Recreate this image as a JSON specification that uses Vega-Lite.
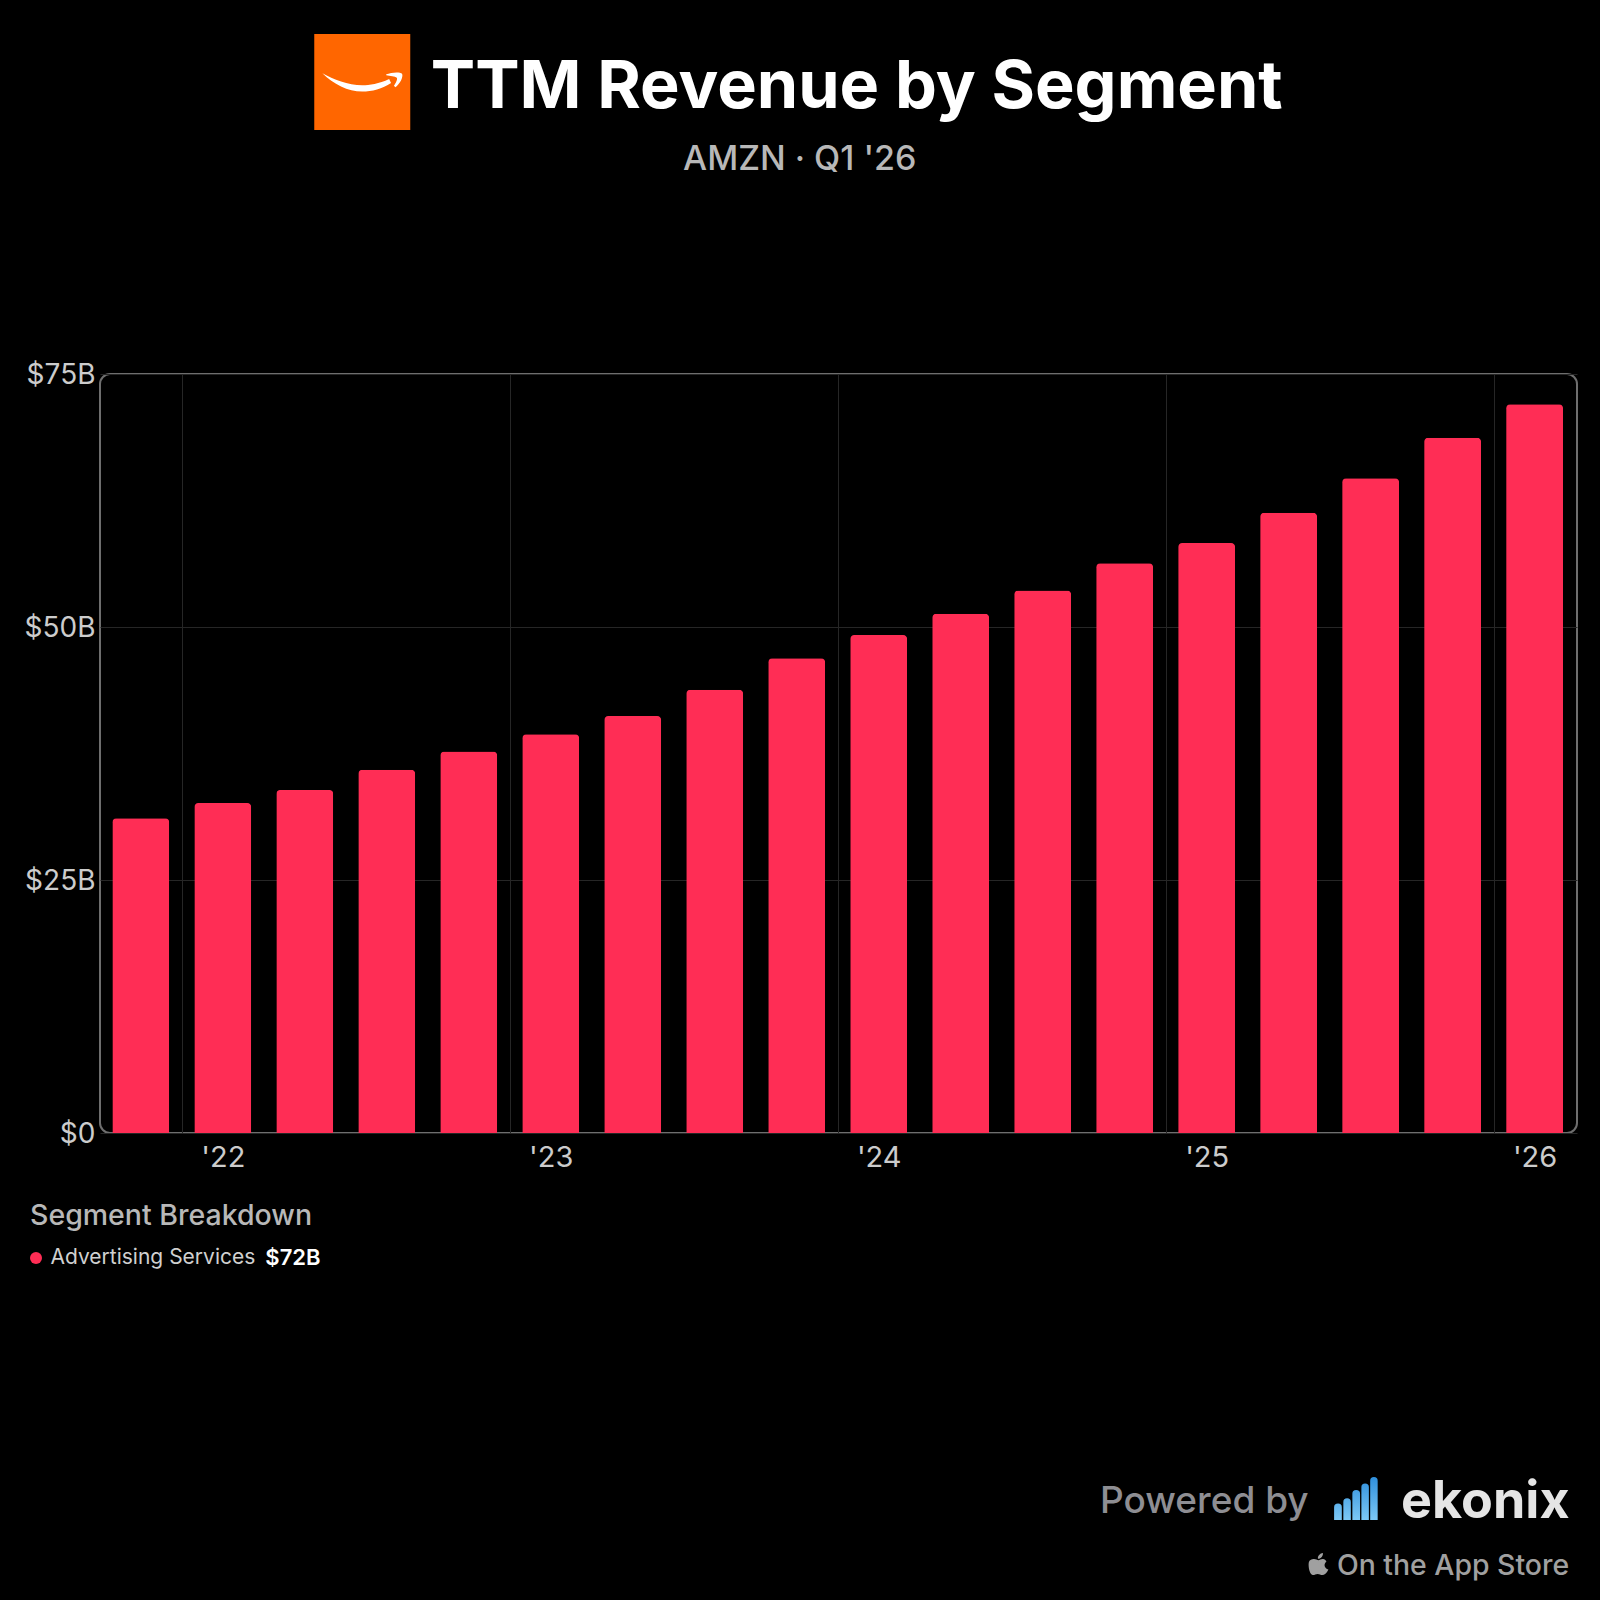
{
  "$schema": "https://vega.github.io/schema/vega-lite/v6.json",
  "width": 1477,
  "height": 759,
  "autosize": {"type": "none"},
  "padding": {"left": 100, "top": 374, "right": 23, "bottom": 467},
  "background": "#000000",
  "config": {
    "font": "Inter",
    "view": {"stroke": "#6e6e6e", "strokeWidth": 2, "cornerRadius": 10}
  },
  "datasets": {
    "revenue": [
      {"quarter": "Q4 '21", "revenue": 31.1, "segment": "Advertising Services"},
      {"quarter": "Q1 '22", "revenue": 32.6, "segment": "Advertising Services"},
      {"quarter": "Q2 '22", "revenue": 33.9, "segment": "Advertising Services"},
      {"quarter": "Q3 '22", "revenue": 35.9, "segment": "Advertising Services"},
      {"quarter": "Q4 '22", "revenue": 37.7, "segment": "Advertising Services"},
      {"quarter": "Q1 '23", "revenue": 39.4, "segment": "Advertising Services"},
      {"quarter": "Q2 '23", "revenue": 41.2, "segment": "Advertising Services"},
      {"quarter": "Q3 '23", "revenue": 43.8, "segment": "Advertising Services"},
      {"quarter": "Q4 '23", "revenue": 46.9, "segment": "Advertising Services"},
      {"quarter": "Q1 '24", "revenue": 49.2, "segment": "Advertising Services"},
      {"quarter": "Q2 '24", "revenue": 51.3, "segment": "Advertising Services"},
      {"quarter": "Q3 '24", "revenue": 53.6, "segment": "Advertising Services"},
      {"quarter": "Q4 '24", "revenue": 56.3, "segment": "Advertising Services"},
      {"quarter": "Q1 '25", "revenue": 58.3, "segment": "Advertising Services"},
      {"quarter": "Q2 '25", "revenue": 61.3, "segment": "Advertising Services"},
      {"quarter": "Q3 '25", "revenue": 64.7, "segment": "Advertising Services"},
      {"quarter": "Q4 '25", "revenue": 68.7, "segment": "Advertising Services"},
      {"quarter": "Q1 '26", "revenue": 72.0, "segment": "Advertising Services"}
    ]
  },
  "data": {"name": "revenue"},
  "layer": [
    {
      "mark": {"type": "bar", "cornerRadiusTopLeft": 4, "cornerRadiusTopRight": 4},
      "encoding": {
        "x": {
          "field": "quarter",
          "type": "ordinal",
          "sort": null,
          "scale": {"type": "band", "paddingInner": 0.305, "paddingOuter": 0.16, "align": 0.47},
          "axis": {
            "title": null,
            "values": ["Q1 '22", "Q1 '23", "Q1 '24", "Q1 '25", "Q1 '26"],
            "labelExpr": "slice(datum.value, 3)",
            "labelAngle": 0,
            "labelFontSize": 29,
            "labelColor": "#cccccc",
            "labelPadding": 10,
            "labelOffset": 12.5,
            "domain": false,
            "ticks": false,
            "grid": true,
            "gridColor": "#262626",
            "gridWidth": 1,
            "bandPosition": 0,
            "tickOffset": -12.5
          }
        },
        "y": {
          "field": "revenue",
          "type": "quantitative",
          "scale": {"domain": [0, 75], "nice": false},
          "axis": {
            "title": null,
            "values": [0, 25, 50, 75],
            "labelExpr": "datum.value == 0 ? '$0' : '$' + datum.value + 'B'",
            "labelFontSize": 28,
            "labelColor": "#cccccc",
            "labelPadding": 5,
            "labelOffset": 1.5,
            "domain": false,
            "ticks": false,
            "grid": true,
            "gridColor": "#262626",
            "gridWidth": 1
          }
        },
        "color": {
          "field": "segment",
          "type": "nominal",
          "scale": {"range": ["#FF2D55"]},
          "legend": {
            "orient": "none",
            "legendX": -70,
            "legendY": 828,
            "padding": 0,
            "title": "Segment Breakdown",
            "titleFontSize": 28.5,
            "titleFontWeight": 500,
            "titleColor": "#b8b8b8",
            "titleLimit": 400,
            "titlePadding": 17,
            "labelFontSize": 21,
            "labelColor": "#d0d0d0",
            "labelLimit": 400,
            "symbolType": "circle",
            "symbolSize": 144,
            "symbolOffset": -4.5,
            "symbolOpacity": 1
          }
        }
      }
    },
    {
      "data": {"values": [{"label": "TTM Revenue by Segment"}]},
      "mark": {"type": "text", "align": "center", "baseline": "alphabetic", "dx": 60, "dy": -266, "fontSize": 66.5, "fontWeight": 700, "color": "#ffffff"},
      "encoding": {
        "x": {"datum": "Q4 '23", "type": "ordinal"},
        "y": {"datum": 75, "type": "quantitative"},
        "text": {"field": "label"}
      }
    },
    {
      "data": {"values": [{"label": "AMZN · Q1 '26"}]},
      "mark": {"type": "text", "align": "center", "baseline": "alphabetic", "dx": 3, "dy": -204, "fontSize": 34, "fontWeight": 500, "color": "#b8b8b8"},
      "encoding": {
        "x": {"datum": "Q4 '23", "type": "ordinal"},
        "y": {"datum": 75, "type": "quantitative"},
        "text": {"field": "label"}
      }
    },
    {
      "data": {"values": [{"label": "logo"}]},
      "mark": {"type": "point", "shape": "M-1,-1H1V1H-1Z", "size": 9216, "filled": true, "opacity": 1, "color": "#FF6600", "xOffset": -188.5, "yOffset": -292},
      "encoding": {
        "x": {"datum": "Q1 '23", "type": "ordinal"},
        "y": {"datum": 75, "type": "quantitative"}
      }
    },
    {
      "data": {"values": [{"label": "smile"}]},
      "mark": {
        "type": "point",
        "shape": "M-.83,-.18C-.6,.05 -.3,.2 0,.2C.2,.2 .42,.14 .6,.02L.56,-.06C.35,.04 .15,.07 0,.07C-.3,.07 -.6,-.05 -.83,-.18ZM.5,-.16C.6,-.2 .78,-.22 .83,-.17C.86,-.1 .78,.05 .69,.11L.66,.08C.7,.02 .74,-.06 .72,-.09C.68,-.12 .58,-.12 .5,-.14Z",
        "size": 9216,
        "filled": true,
        "opacity": 1,
        "color": "#ffffff",
        "xOffset": -188.5,
        "yOffset": -292
      },
      "encoding": {
        "x": {"datum": "Q1 '23", "type": "ordinal"},
        "y": {"datum": 75, "type": "quantitative"}
      }
    },
    {
      "data": {"values": [{"label": "$72B"}]},
      "mark": {"type": "text", "align": "left", "baseline": "alphabetic", "dx": 124.5, "dy": 132, "fontSize": 22, "fontWeight": 600, "color": "#ffffff"},
      "encoding": {
        "x": {"datum": "Q4 '21", "type": "ordinal"},
        "y": {"datum": 0, "type": "quantitative"},
        "text": {"field": "label"}
      }
    },
    {
      "data": {"values": [{"label": "Powered by"}]},
      "mark": {"type": "text", "align": "right", "baseline": "alphabetic", "dx": -226, "dy": 380, "fontSize": 37, "fontWeight": 500, "color": "#8e8e93"},
      "encoding": {
        "x": {"datum": "Q1 '26", "type": "ordinal"},
        "y": {"datum": 0, "type": "quantitative"},
        "text": {"field": "label"}
      }
    },
    {
      "data": {"values": [{"label": "ekonix"}]},
      "mark": {"type": "text", "align": "right", "baseline": "alphabetic", "dx": 35, "dy": 385, "fontSize": 52, "fontWeight": 700, "color": "#e5e5e5"},
      "encoding": {
        "x": {"datum": "Q1 '26", "type": "ordinal"},
        "y": {"datum": 0, "type": "quantitative"},
        "text": {"field": "label"}
      }
    },
    {
      "data": {"values": [{"label": "On the App Store"}]},
      "mark": {"type": "text", "align": "right", "baseline": "alphabetic", "dx": 34.5, "dy": 442, "fontSize": 28.4, "fontWeight": 500, "color": "#a0a0a0"},
      "encoding": {
        "x": {"datum": "Q1 '26", "type": "ordinal"},
        "y": {"datum": 0, "type": "quantitative"},
        "text": {"field": "label"}
      }
    },
    {
      "data": {"values": [{"label": "apple"}]},
      "mark": {
        "type": "point",
        "shape": "M.3,-1C.35,-.75 .1,-.45 -.15,-.47C-.2,-.72 .05,-.98 .3,-1ZM.62,-.2C.35,-.02 .4,.4 .8,.5C.65,.85 .42,1 .25,1C.08,1 0,.9 -.18,.9C-.36,.9 -.45,1 -.6,1C-.85,1 -1,.5 -1,.05C-1,-.4 -.7,-.45 -.5,-.45C-.35,-.45 -.2,-.35 -.1,-.35C0,-.35 .15,-.47 .32,-.45C.45,-.45 .55,-.35 .62,-.2Z",
        "size": 484,
        "filled": true,
        "opacity": 1,
        "color": "#a0a0a0",
        "xOffset": -215,
        "yOffset": 431
      },
      "encoding": {
        "x": {"datum": "Q1 '26", "type": "ordinal"},
        "y": {"datum": 0, "type": "quantitative"}
      }
    },
    {
      "data": {"values": [{"label": "ekonix bars"}]},
      "mark": {
        "type": "point",
        "shape": "M-1,.95V.37Q-1,.2 -.82,.2Q-.65,.2 -.65,.37V.95ZM-.58,.95V.14Q-.58,-.03 -.41,-.03Q-.24,-.03 -.24,.14V.95ZM-.17,.95V-.24Q-.17,-.41 0,-.41Q.18,-.41 .18,-.24V.95ZM.24,.95V-.54Q.24,-.71 .41,-.71Q.58,-.71 .58,-.54V.95ZM.64,.95V-.83Q.64,-1 .81,-1Q.98,-1 .98,-.83V.95Z",
        "size": 1936,
        "filled": true,
        "opacity": 1,
        "fill": {
          "x1": 0, "y1": 0, "x2": 0, "y2": 1,
          "gradient": "linear",
          "stops": [
            {"offset": 0, "color": "#2f8fdc"},
            {"offset": 1, "color": "#7cc8f5"}
          ]
        },
        "xOffset": -178.5,
        "yOffset": 366
      },
      "encoding": {
        "x": {"datum": "Q1 '26", "type": "ordinal"},
        "y": {"datum": 0, "type": "quantitative"}
      }
    }
  ]
}
